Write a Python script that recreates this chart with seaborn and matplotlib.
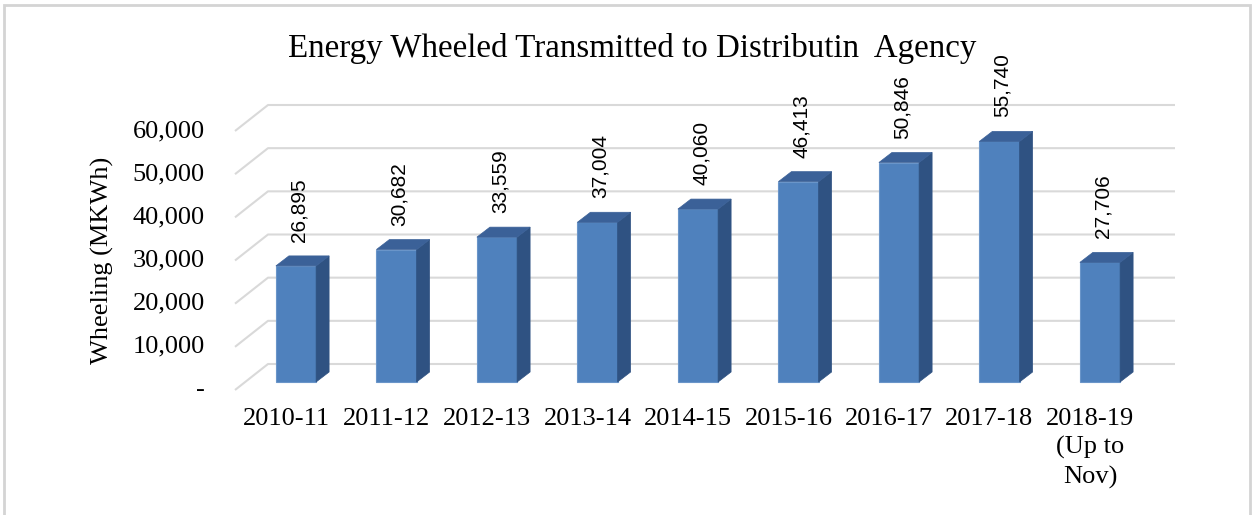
import numpy as np
import pandas as pd
import matplotlib.pyplot as plt
import seaborn as sns
from matplotlib.patches import Polygon, Rectangle

years = ["2010-11", "2011-12", "2012-13", "2013-14", "2014-15",
         "2015-16", "2016-17", "2017-18", "2018-19\n(Up to\nNov)"]
wheeling = [26895, 30682, 33559, 37004, 40060, 46413, 50846, 55740, 27706]

yticks = [0, 10000, 20000, 30000, 40000, 50000, 60000]
ytick_labels = ["-", "10,000", "20,000", "30,000", "40,000", "50,000", "60,000"]

# layout of the reference image in pixels
W, H = 1253, 515
X0, STEP = 296, 100.5          # first bar centre, bar spacing
Y0, PER = 382, 259 / 60000     # bar base, pixels per MKWh

front_col = "#4F81BD"
side_col = "#2F5282"
top_col = "#3B6198"
grid_col = "#D9D9D9"

sns.set_theme(style="white")
plt.rcParams["font.family"] = ["Liberation Serif", "DejaVu Serif"]
plt.rcParams["text.color"] = "black"

fig = plt.figure(figsize=(W / 100, H / 100), dpi=100)
ax = fig.add_axes([0, 0, 1, 1])

df = pd.DataFrame({"year": years, "wheeling": wheeling})
sns.barplot(data=df, x="year", y="wheeling", color=front_col, saturation=1,
            width=0.4, edgecolor="#6A95C9", linewidth=0.8, ax=ax, zorder=3)

ax.set_xlim(-X0 / STEP, (W - X0) / STEP)
ax.set_ylim(-(H - Y0) / PER, Y0 / PER)
ax.axis("off")

# 3d look: side and top faces of each bar
dx, dy = 13 / STEP, 10 / PER
for p in ax.patches:
    x, w, h = p.get_x(), p.get_width(), p.get_height()
    side = Polygon([(x + w, 0), (x + w + dx, dy), (x + w + dx, h + dy), (x + w, h)],
                   closed=True, fc=side_col, ec=side_col, lw=0.5, zorder=3)
    top = Polygon([(x, h), (x + dx, h + dy), (x + w + dx, h + dy), (x + w, h)],
                  closed=True, fc=top_col, ec=top_col, lw=0.5, zorder=3)
    ax.add_patch(side)
    ax.add_patch(top)

# back wall gridlines with the diagonal floor edge on the left
fx, bx, rx = (235 - X0) / STEP, (268 - X0) / STEP, (1175 - X0) / STEP
for v, lab in zip(yticks, ytick_labels):
    ax.plot([fx, bx, rx], [v - 8 / PER, v + 18 / PER, v + 18 / PER],
            color=grid_col, lw=1.5, zorder=1, solid_capstyle="butt")
    ax.text((205 - X0) / STEP, v - 8 / PER, lab, ha="right", va="center",
            fontsize=19, color="black")

# value labels
for i, v in enumerate(wheeling):
    ax.text(i + 0.03, v + 24 / PER, f"{v:,}", rotation=90, ha="center",
            va="bottom", fontsize=15, color="black",
            family=["Liberation Sans", "DejaVu Sans"])

# category labels
for i, lab in enumerate(years):
    ax.text(i - 0.1, -(408 - Y0) / PER, lab, ha="center", va="top",
            fontsize=19, linespacing=1.35, multialignment="center", color="black")

ax.text((102 - X0) / STEP, (Y0 - 260) / PER, "Wheeling (MKWh)", rotation=90,
        ha="center", va="center", fontsize=19, color="black")

fig.text(632 / W, 1 - 48 / H, "Energy Wheeled Transmitted to Distributin  Agency",
         ha="center", va="center", fontsize=23.8, color="black")

fig.patches.append(Rectangle((4 / W, -0.1), (1250 - 4) / W, 1.1 - 5 / H,
                             transform=fig.transFigure, fill=False,
                             ec="#D4D4D4", lw=2))

fig.savefig("out.png", dpi=100)
